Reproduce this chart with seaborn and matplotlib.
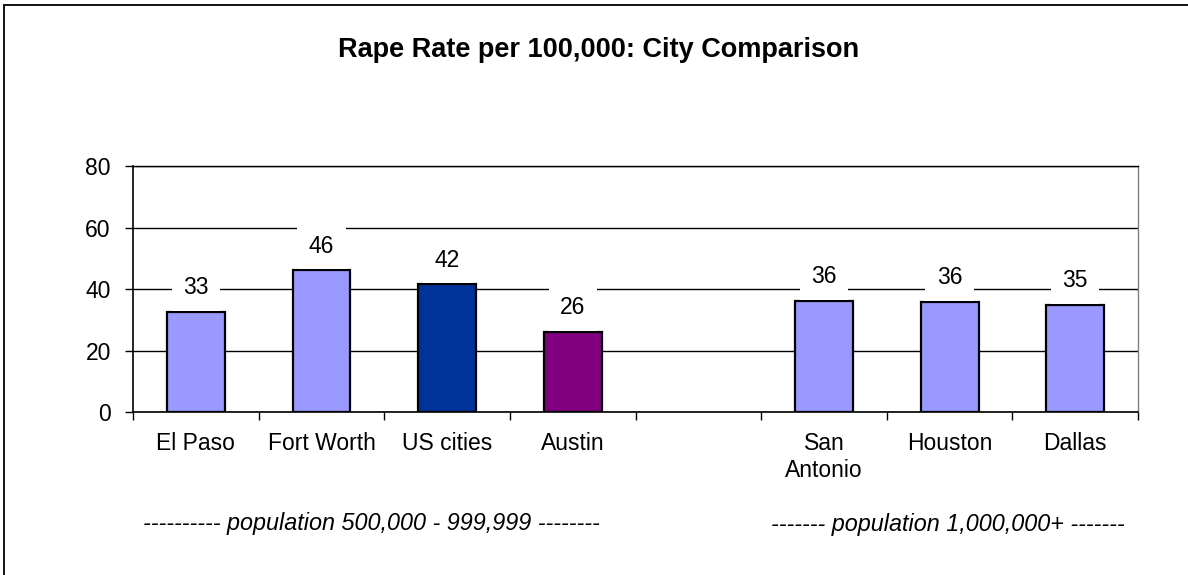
import numpy as np
import pandas as pd
import matplotlib
matplotlib.use("Agg")
import matplotlib.pyplot as plt
import seaborn as sns

# values
cities = ["El Paso", "Fort Worth", "US cities", "Austin", " ", "San\nAntonio", "Houston", "Dallas"]
rates = [32.6, 46.2, 41.6, 26.1, np.nan, 36.3, 35.9, 35.0]
bar_colors = ["#9999FF", "#9999FF", "#003399", "#800080", "#FFFFFF", "#9999FF", "#9999FF", "#9999FF"]
yticks = [0, 20, 40, 60, 80]

title = "Rape Rate per 100,000: City Comparison"
note_left = "---------- population 500,000 - 999,999 --------"
note_right = "------- population 1,000,000+ -------"

sns.set_style("white")
plt.rcParams["font.family"] = ["Liberation Sans", "DejaVu Sans"]
plt.rcParams["text.color"] = "black"
plt.rcParams["xtick.color"] = "black"
plt.rcParams["ytick.color"] = "black"

df = pd.DataFrame({"city": cities, "rate": rates})
palette = dict(zip(cities, bar_colors))

fig = plt.figure(figsize=(11.88, 5.75), dpi=100)
ax = fig.add_axes([0.112, 0.283, 0.846, 0.428])

sns.barplot(data=df, x="city", y="rate", hue="city", order=cities,
            palette=palette, saturation=1, legend=False, width=0.46,
            edgecolor="black", linewidth=1.6, ax=ax)

ax.set_ylim(0, 80)
ax.set_xlim(-0.5, len(cities) - 0.5)
ax.set_yticks(yticks)
ax.set_axisbelow(True)
ax.yaxis.grid(True, color="black", linewidth=1.0)
ax.set_xlabel("")
ax.set_ylabel("")

# category boundary ticks like Excel
ax.set_xticks(np.arange(-0.5, len(cities)), minor=True)
ax.tick_params(axis="x", which="major", length=0, pad=14, labelsize=16.5)
ax.tick_params(axis="x", which="minor", length=6, width=1, color="black", bottom=True)
ax.tick_params(axis="y", length=6, width=1, color="black", left=True, pad=10, labelsize=16.5)
for lab in ax.get_xticklabels():
    lab.set_linespacing(1.25)

for side in ["left", "bottom"]:
    ax.spines[side].set_color("black")
    ax.spines[side].set_linewidth(1.2)
ax.spines["top"].set_color("black")
ax.spines["top"].set_linewidth(1.0)
ax.spines["right"].set_color("#808080")
ax.spines["right"].set_linewidth(1.0)

for cont in ax.containers:
    ax.bar_label(cont, fmt="%.0f", padding=9, fontsize=16.5,
                 bbox=dict(boxstyle="square,pad=0.5", facecolor="white", edgecolor="none"))

fig.text(0.504, 0.913, title, ha="center", va="center", fontsize=19.5, fontweight="bold")
fig.text(0.313, 0.09, note_left, ha="center", va="center", fontsize=16.8, style="italic")
fig.text(0.798, 0.088, note_right, ha="center", va="center", fontsize=16.8, style="italic")

# outer chart border (only top/left visible in the source)
fig.add_artist(plt.Line2D([0.0035, 0.0035], [0.0, 0.992], transform=fig.transFigure,
                          color="black", linewidth=1.3))
fig.add_artist(plt.Line2D([0.0035, 1.0], [0.992, 0.992], transform=fig.transFigure,
                          color="black", linewidth=1.3))

fig.savefig("out.png", dpi=100)
